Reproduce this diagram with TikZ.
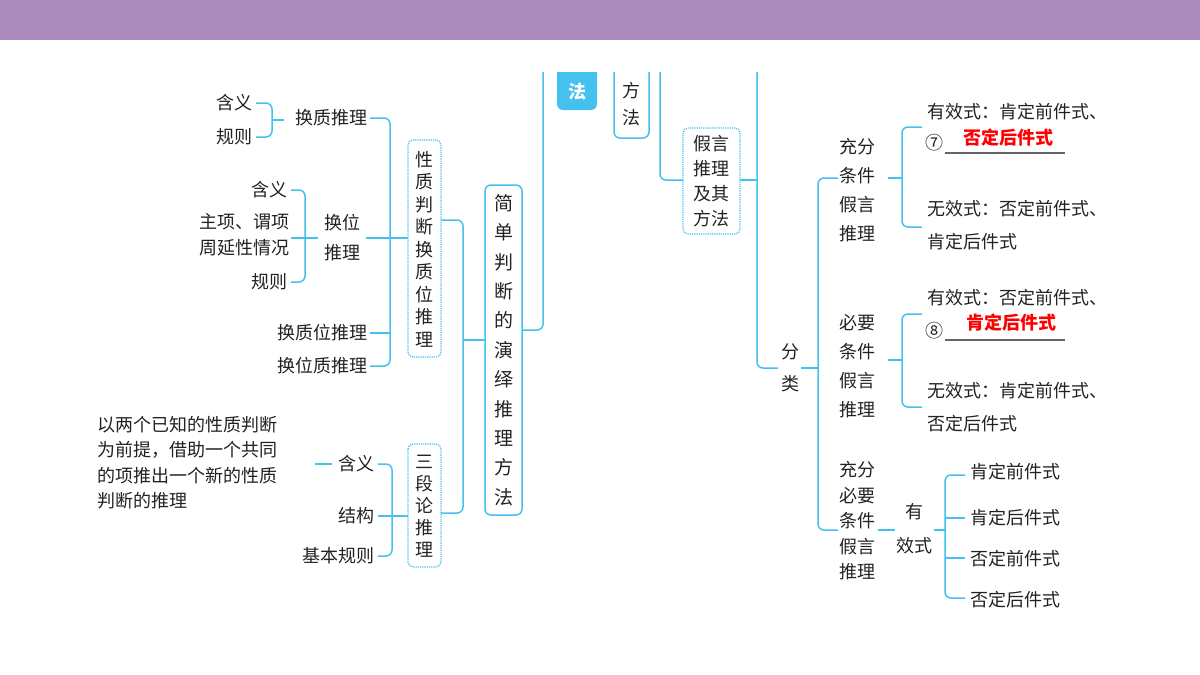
\documentclass[tikz,border=0pt]{standalone}
\usepackage{fontspec}
\setmainfont{Noto Sans CJK SC}
\definecolor{lb}{HTML}{45C1EF}
\definecolor{bar}{HTML}{AC8BBE}
\definecolor{tx}{HTML}{222222}
\begin{document}
\begin{tikzpicture}[x=1pt,y=-1pt,
  ln/.style={draw=lb,line width=1.5pt,rounded corners=6pt},
  t/.style={font=\fontsize{18}{20}\selectfont,inner sep=0pt,text=tx},
  vt/.style={font=\fontsize{18}{#1}\selectfont,inner sep=0pt,align=center,text=tx},
  dbox/.style={draw=lb,line width=1.2pt,densely dotted,rounded corners=5pt},
  sbox/.style={draw=lb,line width=1.5pt,rounded corners=6pt}]
\useasboundingbox (0,0) rectangle (1200,675);
% ---------- top part lines
\draw[ln] (543,60) -- (543,330) -- (523,330);
\draw[ln] (660,60) -- (660,180) -- (683,180);
\draw[ln] (757,60) -- (757,368) -- (778,368);
\draw[ln] (740,180) -- (757,180);
\fill[lb,rounded corners=6pt] (557,50) rectangle (597,110);
\node[font=\fontsize{18}{20}\selectfont\bfseries,text=white] (fa) at (577,92) {法};
\draw[sbox] (614,50) rectangle (649,138);
\node[vt=27] (ff) at (631.5,104) {方\\法};
\draw[dbox] (683,128) rectangle (740,234);
\node[vt=25] (jy) at (711.5,181) {假言\\推理\\及其\\方法};
\fill[white] (0,40) rectangle (1200,72);
\fill[bar] (0,0) rectangle (1200,40);
% ---------- main left box
\draw[sbox] (485,185) rectangle (522,515);
\node[font=\fontsize{19}{29.4}\selectfont,inner sep=0pt,align=center,text=tx] (jd) at (503.5,350) {简\\单\\判\\断\\的\\演\\绎\\推\\理\\方\\法};
\draw[dbox] (408,140) rectangle (441,357);
\node[vt=22.5] (xz) at (424.5,249) {性\\质\\判\\断\\换\\质\\位\\推\\理};
\draw[dbox] (408,444) rectangle (441,567);
\node[vt=22] (sd) at (424.5,506) {三\\段\\论\\推\\理};
\draw[ln] (441,220) -- (463,220) -- (463,513) -- (441,513);
\draw[ln] (463,340) -- (485,340);
% 性质 branches
\node[t,anchor=east] (hz) at (368,118) {换质推理};
\node[vt=30,anchor=center] (hw) at (342,238) {换位\\推理};
\node[t,anchor=east] (hzw) at (368,333) {换质位推理};
\node[t,anchor=east] (hwz) at (368,366) {换位质推理};
\draw[ln] (370,118) -- (390,118) -- (390,366) -- (370,366);
\draw[ln] (370,333) -- (390,333);
\draw[ln] (366,238) -- (408,238);
\node[t,anchor=east] (hy1) at (253,103) {含义};
\node[t,anchor=east] (gz1) at (253,137) {规则};
\draw[ln] (256,103) -- (272,103) -- (272,137) -- (256,137);
\draw[ln] (272,120) -- (284,120);
\node[t,anchor=east] (hy2) at (288,190) {含义};
\node[vt=26,anchor=east] (zx) at (290,235) {主项、谓项\\周延性情况};
\node[t,anchor=east] (gz2) at (288,282) {规则};
\draw[ln] (291,190) -- (305,190) -- (305,282) -- (291,282);
\draw[ln] (291,238) -- (318,238);
% 三段论 branches
\node[t,anchor=east] (hy3) at (375,464) {含义};
\node[t,anchor=east] (jg) at (375,516) {结构};
\node[t,anchor=east] (jb) at (375,556) {基本规则};
\draw[ln] (378,464) -- (392,464) -- (392,556) -- (378,556);
\draw[ln] (378,516) -- (408,516);
\draw[ln] (315,464) -- (332,464);
\node[font=\fontsize{18}{25.5}\selectfont,inner sep=0pt,align=left,text=tx,anchor=north west] (def) at (97,416) {以两个已知的性质判断\\为前提，借助一个共同\\的项推出一个新的性质\\判断的推理};
% ---------- right side
\node[vt=32] (fl) at (790,368) {分\\类};
\draw[ln] (801,368) -- (818,368);
\draw[ln] (838,178) -- (818,178) -- (818,530) -- (838,530);
% branch 1
\node[vt=29] (cf) at (857,190) {充分\\条件\\假言\\推理};
\draw[ln] (888,178) -- (902,178);
\draw[ln] (922,127) -- (902,127) -- (902,227) -- (922,227);
\node[t,anchor=west] (e1) at (927,112) {有效式：肯定前件式、};
\node[t,anchor=west] (c7) at (925,143) {⑦};
\draw[draw=gray!80!black,line width=1.2pt] (945,153) -- (1065,153);
\node[font=\fontsize{18}{20}\selectfont\bfseries,text=red,inner sep=0pt] (a7) at (1008,138) {否定后件式};
\node[t,anchor=west] (e2) at (927,209) {无效式：否定前件式、};
\node[t,anchor=west] (e3) at (927,242) {肯定后件式};
% branch 2
\node[vt=29] (by) at (857,366) {必要\\条件\\假言\\推理};
\draw[ln] (888,360) -- (902,360);
\draw[ln] (922,314) -- (902,314) -- (902,407) -- (922,407);
\node[t,anchor=west] (f1) at (927,298) {有效式：否定前件式、};
\node[t,anchor=west] (c8) at (925,331) {⑧};
\draw[draw=gray!80!black,line width=1.2pt] (945,340) -- (1065,340);
\node[font=\fontsize{18}{20}\selectfont\bfseries,text=red,inner sep=0pt] (a8) at (1011,323) {肯定后件式};
\node[t,anchor=west] (f2) at (927,391) {无效式：肯定前件式、};
\node[t,anchor=west] (f3) at (927,424) {否定后件式};
% branch 3
\node[vt=25.5] (cb) at (857,521) {充分\\必要\\条件\\假言\\推理};
\node[vt=34] (yx) at (914,529) {有\\效式};
\draw[ln] (878,530) -- (895,530);
\draw[ln] (934,530) -- (945,530);
\draw[ln] (965,475) -- (945,475) -- (945,598) -- (965,598);
\draw[ln] (945,518) -- (965,518);
\draw[ln] (945,558) -- (965,558);
\node[t,anchor=west] (g1) at (970,472) {肯定前件式};
\node[t,anchor=west] (g2) at (970,518) {肯定后件式};
\node[t,anchor=west] (g3) at (970,559) {否定前件式};
\node[t,anchor=west] (g4) at (970,600) {否定后件式};
\end{tikzpicture}
\end{document}
